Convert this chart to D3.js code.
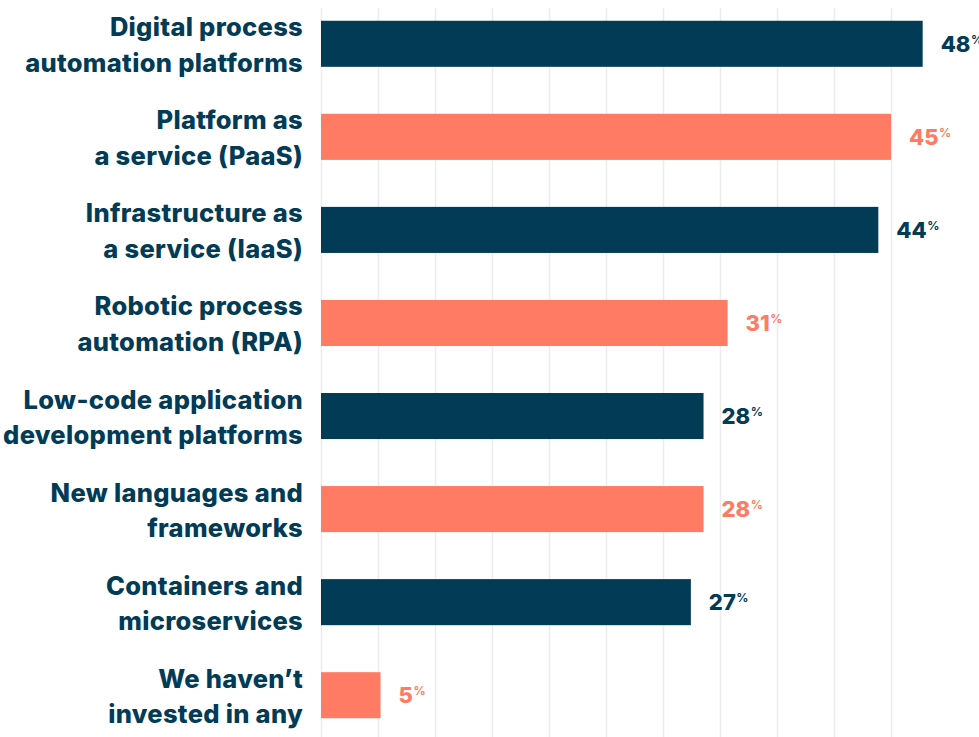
<!DOCTYPE html>
<html>
<head>
<meta charset="utf-8">
<script src="https://cdn.jsdelivr.net/npm/d3@7"></script>
<style>
  html, body { margin: 0; padding: 0; background: #ffffff; }
  svg { display: block; }
</style>
</head>
<body>
<div id="chart"></div>
<script>
// ---- data ----
const categoryLines = [
  ["Digital process", "automation platforms"],
  ["Platform as", "a service (PaaS)"],
  ["Infrastructure as", "a service (IaaS)"],
  ["Robotic process", "automation (RPA)"],
  ["Low-code application", "development platforms"],
  ["New languages and", "frameworks"],
  ["Containers and", "microservices"],
  ["We haven\u2019t", "invested in any"]
];
const percentLabels = [48, 45, 44, 31, 28, 28, 27, 5];
// bar extents as drawn in the picture (same units as the grid)
const barValues = [47.5, 45, 44, 32.1, 30.2, 30.2, 29.2, 4.7];
const gridTicks = [0, 4.5, 9, 13.5, 18, 22.5, 27, 31.5, 36, 40.5, 45];

// ---- layout ----
const W = 979, H = 737;
const navy = "#023b56", coral = "#ff7b63", grid = "#ececec";
const colors = [navy, coral];

const svg = d3.select("#chart").append("svg").attr("width", W).attr("height", H);

const x = d3.scaleLinear().domain([0, 45]).range([321, 891]);
const y = d3.scaleBand().domain(d3.range(categoryLines.length)).range([-2.5, 741.5]).paddingInner(0.505).paddingOuter(0.25);

// grid
svg.append("g").selectAll("line").data(gridTicks).join("line")
  .attr("x1", d => x(d) + 0.5).attr("x2", d => x(d) + 0.5)
  .attr("y1", 8).attr("y2", H)
  .attr("stroke", grid).attr("stroke-width", 1.5);

// bars
svg.append("g").selectAll("rect").data(barValues).join("rect")
  .attr("x", x(0))
  .attr("y", (d, i) => y(i))
  .attr("width", d => x(d) - x(0))
  .attr("height", y.bandwidth())
  .attr("fill", (d, i) => colors[i % 2]);

const font = "Inter, 'Noto Sans', sans-serif";

// category labels
const cat = svg.append("g").selectAll("text").data(categoryLines).join("text")
  .attr("text-anchor", "end")
  .attr("font-family", font)
  .attr("font-weight", 800)
  .attr("font-size", 25.5)
  .attr("fill", navy)
  .attr("letter-spacing", 0.3);
cat.each(function(lines, i) {
  const t = d3.select(this);
  const cy = y(i) + y.bandwidth() / 2;
  lines.forEach((ln, k) => {
    t.append("tspan").attr("x", 303).attr("y", cy - 7.5 + k * 35.5).text(ln);
  });
});

// value labels
const val = svg.append("g").selectAll("text").data(barValues).join("text")
  .attr("x", d => x(d) + 18)
  .attr("y", (d, i) => y(i) + y.bandwidth() / 2 + 8)
  .attr("font-family", font)
  .attr("font-weight", 800)
  .attr("fill", (d, i) => colors[i % 2]);
val.append("tspan").attr("font-size", 22).text((d, i) => percentLabels[i]);
val.append("tspan").attr("font-size", 12).attr("font-weight", 700).attr("dy", -8).attr("dx", 0.5).text("%");
</script>
</body>
</html>
